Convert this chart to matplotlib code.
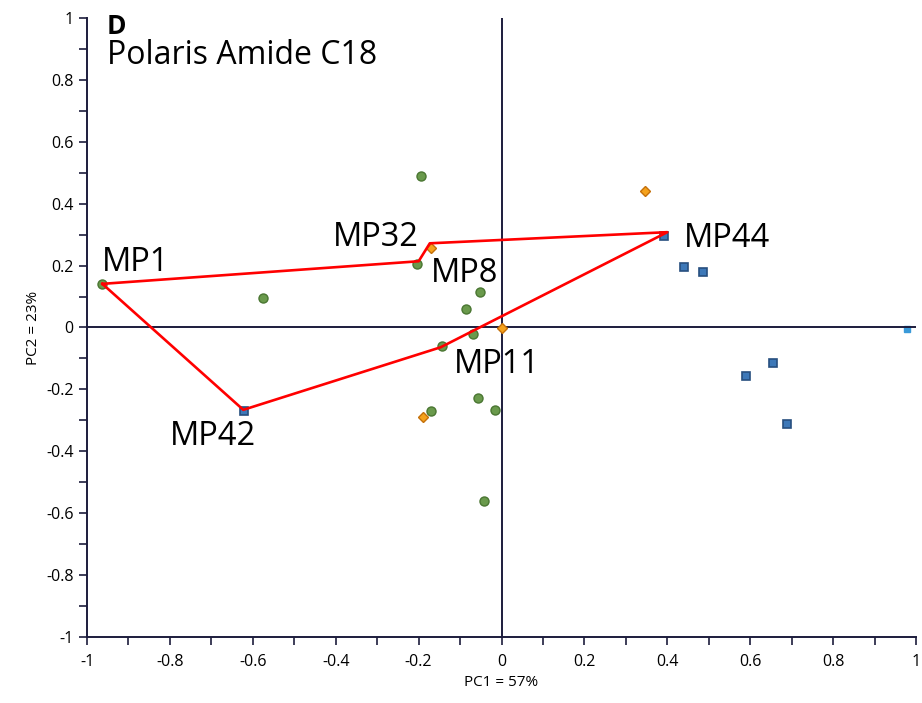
import numpy as np
import matplotlib
matplotlib.use("Agg")
import matplotlib.pyplot as plt
from matplotlib.ticker import MultipleLocator, FuncFormatter

plt.rcParams['font.family'] = ['Open Sans', 'DejaVu Sans']
plt.rcParams['axes.unicode_minus'] = False

# PCA scores
green_x = [-0.963, -0.576, -0.194, -0.203, -0.053, -0.086, -0.068, -0.144, -0.057, -0.015, -0.170, -0.042]
green_y = [0.141, 0.095, 0.488, 0.204, 0.114, 0.060, -0.020, -0.060, -0.227, -0.266, -0.271, -0.559]
blue_x = [0.392, 0.440, 0.485, 0.654, 0.590, 0.688, -0.621]
blue_y = [0.296, 0.195, 0.179, -0.116, -0.157, -0.313, -0.270]
orange_x = [-0.171, 0.000, 0.346, -0.189]
orange_y = [0.257, -0.002, 0.440, -0.288]
edge_x = [0.979]
edge_y = [-0.004]

# hull drawn around the selected columns
hull_names = ["MP1", "MP8", "MP32", "MP44", "MP11", "MP42"]
hull_x = [-0.963, -0.200, -0.173, 0.400, -0.147, -0.623]
hull_y = [0.141, 0.214, 0.272, 0.308, -0.064, -0.266]

# labelled points
label_names = ["MP1", "MP8", "MP32", "MP44", "MP11", "MP42"]
label_x = [-0.963, -0.203, -0.171, 0.392, -0.144, -0.621]
label_y = [0.141, 0.204, 0.257, 0.296, -0.060, -0.270]
label_off = [(0, 9.6, 'left'), (9.6, -12.7, 'left'), (-8.4, 1.7, 'right'),
             (14, -7.7, 'left'), (8.4, -19.4, 'left'), (-22.8, -24.7, 'center')]

navy = '#1c1c3c'

fig = plt.figure(figsize=(9.22, 7.03), dpi=100)
ax = fig.add_axes([0.0944, 0.0939, 0.8991, 0.8805])
ax.set_xlim(-1, 1)
ax.set_ylim(-1, 1)

ax.axhline(0, color=navy, lw=1.4, zorder=1)
ax.axvline(0, color=navy, lw=1.4, zorder=1)

ax.plot(edge_x, edge_y, 's', ms=4, color='#3a9ad9', zorder=0.5)
ax.plot(green_x, green_y, 'o', ms=6.5, mfc='#6a9a4c', mec='#4a7632', mew=1.0, zorder=3)
ax.plot(blue_x, blue_y, 's', ms=6, mfc='#3d78b8', mec='#274f7f', mew=1.2, zorder=3)
ax.plot(orange_x, orange_y, 'D', ms=5.5, mfc='#f5a21c', mec='#c4700a', mew=1.0, zorder=3)

ax.plot(hull_x + hull_x[:1], hull_y + hull_y[:1], '-', color='#ff0000', lw=1.9, zorder=4)

for name, x, y, (dx, dy, ha) in zip(label_names, label_x, label_y, label_off):
    ax.annotate(name, (x, y), xytext=(dx, dy), textcoords='offset points',
                ha=ha, va='baseline', fontsize=23.5, color='black', zorder=5)

ax.text(0.0238, 0.9737, "D", transform=ax.transAxes, fontsize=19, fontweight='bold',
        va='baseline', ha='left')
ax.text(0.0238, 0.925, "Polaris Amide C18", transform=ax.transAxes, fontsize=23,
        va='baseline', ha='left')

for s in ['top', 'right']:
    ax.spines[s].set_visible(False)
for s in ['left', 'bottom']:
    ax.spines[s].set_color(navy)
    ax.spines[s].set_linewidth(1.4)

fmt = FuncFormatter(lambda v, p: '%g' % round(v, 6))
ax.xaxis.set_major_locator(MultipleLocator(0.2))
ax.xaxis.set_minor_locator(MultipleLocator(0.1))
ax.yaxis.set_major_locator(MultipleLocator(0.2))
ax.yaxis.set_minor_locator(MultipleLocator(0.1))
ax.xaxis.set_major_formatter(fmt)
ax.yaxis.set_major_formatter(fmt)
ax.tick_params(which='both', direction='out', length=6, width=1.2, color=navy,
               labelsize=11.5, labelcolor='black')
ax.tick_params(axis='x', pad=6)

ax.set_xlabel("PC1 = 57%", fontsize=11)
ax.set_ylabel("PC2 = 23%", fontsize=11)

fig.savefig("out.png", dpi=100)
